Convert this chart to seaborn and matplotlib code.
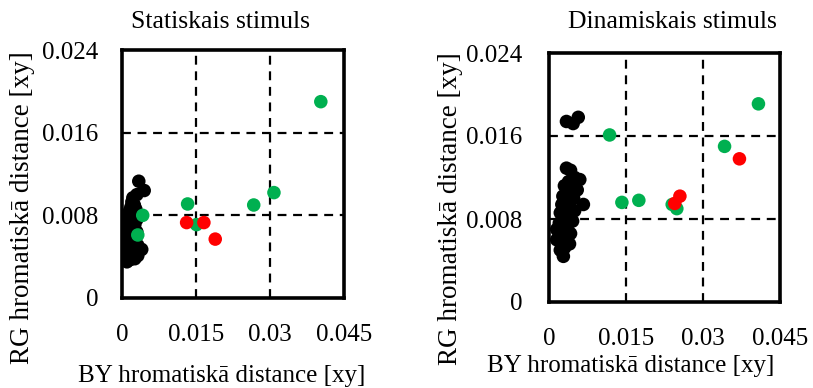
import matplotlib
matplotlib.use("Agg")
import matplotlib.pyplot as plt
import seaborn as sns
import pandas as pd

sns.set_theme(style="white")
plt.rcParams["font.family"] = ["Liberation Serif", "DejaVu Serif"]
plt.rcParams["text.color"] = "black"

# Statiskais stimuls
stat_black_x = [0.0034, 0.0045, 0.0030, 0.0022, 0.0020, 0.0025, 0.0018, 0.0028, 0.0015, 0.0024,
                0.0012, 0.0020, 0.0030, 0.0010, 0.0018, 0.0026, 0.0008, 0.0015, 0.0022, 0.0030,
                0.0006, 0.0012, 0.0020, 0.0028, 0.0005, 0.0014, 0.0024, 0.0032, 0.0008, 0.0018,
                0.0040, 0.0028, 0.0004, 0.0012, 0.0022, 0.0032, 0.0006, 0.0016, 0.0026, 0.0010]
stat_black_y = [0.0113, 0.0104, 0.0100, 0.0097, 0.0093, 0.0090, 0.0088, 0.0086, 0.0084, 0.0082,
                0.0080, 0.0078, 0.0076, 0.0075, 0.0073, 0.0071, 0.0070, 0.0068, 0.0066, 0.0064,
                0.0064, 0.0062, 0.0060, 0.0058, 0.0057, 0.0055, 0.0053, 0.0051, 0.0050, 0.0048,
                0.0047, 0.0046, 0.0045, 0.0043, 0.0042, 0.0041, 0.0039, 0.0037, 0.0038, 0.0035]
stat_green_x = [0.0403, 0.0133, 0.0042, 0.0032, 0.0151, 0.0267, 0.0308]
stat_green_y = [0.0190, 0.0091, 0.0080, 0.0061, 0.0071, 0.0090, 0.0102]
stat_red_x = [0.0131, 0.0166, 0.0189]
stat_red_y = [0.0073, 0.0073, 0.0057]

# Dinamiskais stimuls
dyn_black_x = [0.0034, 0.0047, 0.0057,
               0.0034, 0.0042, 0.0060, 0.0050, 0.0038, 0.0030, 0.0046, 0.0055, 0.0035,
               0.0027, 0.0048, 0.0067, 0.0040, 0.0025, 0.0033, 0.0050, 0.0022, 0.0040,
               0.0030, 0.0046, 0.0020, 0.0036, 0.0015, 0.0028, 0.0042, 0.0020, 0.0034,
               0.0015, 0.0026, 0.0040, 0.0030, 0.0022, 0.0028]
dyn_black_y = [0.0174, 0.0172, 0.0178,
               0.0129, 0.0127, 0.0118, 0.0120, 0.0116, 0.0112, 0.0110, 0.0108, 0.0105,
               0.0102, 0.0100, 0.0094, 0.0097, 0.0094, 0.0090, 0.0088, 0.0086, 0.0084,
               0.0080, 0.0078, 0.0076, 0.0074, 0.0070, 0.0068, 0.0066, 0.0064, 0.0062,
               0.0060, 0.0058, 0.0056, 0.0052, 0.0050, 0.0044]
dyn_green_x = [0.0408, 0.0118, 0.0342, 0.0142, 0.0175, 0.0240, 0.0249]
dyn_green_y = [0.0191, 0.0161, 0.0150, 0.0096, 0.0098, 0.0094, 0.0090]
dyn_red_x = [0.0371, 0.0255, 0.0245]
dyn_red_y = [0.0138, 0.0102, 0.0095]

x_ticks = [0, 0.015, 0.03, 0.045]
x_tick_labels = ["0", "0.015", "0.03", "0.045"]
y_ticks = [0, 0.008, 0.016, 0.024]
y_tick_labels = ["0", "0.008", "0.016", "0.024"]

titles = ["Statiskais stimuls", "Dinamiskais stimuls"]
x_label = "BY hromatiskā distance [xy]"
y_label = "RG hromatiskā distance [xy]"

palette = {"black": "#000000", "green": "#00B050", "red": "#FF0000"}


def frame(bx, by, gx, gy, rx, ry):
    return pd.DataFrame({
        "x": bx + gx + rx,
        "y": by + gy + ry,
        "grp": ["black"] * len(bx) + ["green"] * len(gx) + ["red"] * len(rx),
    })


panels = [
    frame(stat_black_x, stat_black_y, stat_green_x, stat_green_y, stat_red_x, stat_red_y),
    frame(dyn_black_x, dyn_black_y, dyn_green_x, dyn_green_y, dyn_red_x, dyn_red_y),
]

W, H = 813, 388
fig = plt.figure(figsize=(W / 100, H / 100), dpi=100)
positions = [
    [122 / W, 1 - 298 / H, 222 / W, 248 / H],
    [549 / W, 1 - 302 / H, 231 / W, 249 / H],
]
ytick_pads = [17, 19]
# pixel anchors for the panel texts: title centre, x-label centre, y-label centre
title_xy = [(220, 22), (672, 22)]
xlabel_xy = [(222, 376), (631, 366)]
ylabel_xy = [(23, 208), (450, 209)]

for i, df in enumerate(panels):
    ax = fig.add_axes(positions[i])
    sns.scatterplot(data=df, x="x", y="y", hue="grp", palette=palette, s=95,
                    edgecolor="none", legend=False, ax=ax, zorder=3)
    ax.set_xlim(0, 0.045)
    ax.set_ylim(0, 0.024)
    ax.set_xticks(x_ticks)
    ax.set_xticklabels(x_tick_labels)
    ax.set_yticks(y_ticks)
    ax.set_yticklabels(y_tick_labels)
    ax.tick_params(axis="both", length=0, labelsize=18, colors="black")
    ax.tick_params(axis="x", pad=19)
    ax.tick_params(axis="y", pad=ytick_pads[i])
    for v in x_ticks[1:-1]:
        ax.axvline(v, color="black", lw=1.6, ls=(0, (4, 3)), zorder=1)
    for v in y_ticks[1:-1]:
        ax.axhline(v, color="black", lw=1.6, ls=(0, (4, 3)), zorder=1)
    for sp in ax.spines.values():
        sp.set_visible(True)
        sp.set_color("black")
        sp.set_linewidth(2.6)
    ax.set_xlabel("")
    ax.set_ylabel("")
    ax.grid(False)

    tx, ty = title_xy[i]
    fig.text(tx / W, 1 - ty / H, titles[i], fontsize=18.5, ha="center", va="center")
    lx, ly = xlabel_xy[i]
    fig.text(lx / W, 1 - ly / H, x_label, fontsize=18, ha="center", va="center")
    yx, yy = ylabel_xy[i]
    fig.text(yx / W, 1 - yy / H, y_label, fontsize=19.5, ha="center", va="center",
             rotation=90)

fig.savefig("out.png", dpi=100, facecolor="white")
